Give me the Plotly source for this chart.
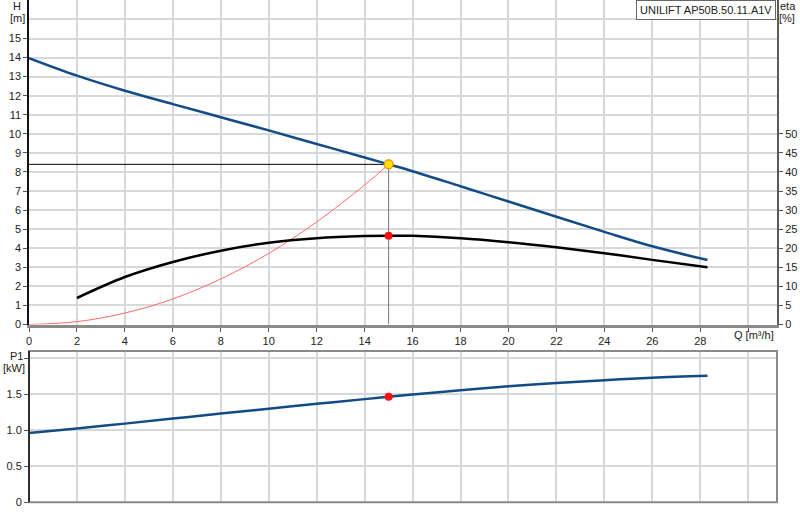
import plotly.graph_objects as go

# ---------------- data ----------------
Q_H = [0, 2, 4, 6, 8, 10, 12, 14, 15, 16, 18, 20, 22, 24, 26, 28.3]
H_vals = [13.97, 13.05, 12.26, 11.56, 10.87, 10.18, 9.47, 8.76, 8.4, 8.04, 7.25, 6.45, 5.65, 4.86, 4.1, 3.38]

Q_eta = [2, 4, 6, 8, 10, 12, 14, 15, 16, 18, 20, 22, 24, 26, 28.3]
eta_vals = [6.95, 12.45, 16.4, 19.35, 21.45, 22.65, 23.2, 23.3, 23.25, 22.65, 21.6, 20.25, 18.7, 16.95, 15.0]

Q_sys = [0, 2, 4, 6, 8, 10, 12, 14, 15]
H_sys = [0, 0.15, 0.6, 1.34, 2.39, 3.73, 5.38, 7.32, 8.4]

Q_P1 = [0, 2, 4, 6, 8, 10, 12, 14, 15, 16, 18, 20, 22, 24, 26, 28.3]
P1_vals = [0.96, 1.025, 1.092, 1.162, 1.232, 1.30, 1.367, 1.432, 1.465, 1.496, 1.555, 1.61, 1.656, 1.695, 1.728, 1.755]

Q_op = 15
H_op = 8.4
eta_op = 23.3
P1_op = 1.465

x_ticks = list(range(0, 31, 2))
x_labels = [str(v) for v in range(0, 29, 2)] + [""]
H_ticks = list(range(0, 16))
eta_ticks = list(range(0, 51, 5))
P1_ticks = [0, 0.5, 1.0, 1.5, 2.0]
P1_labels = ["0", "0.5", "1.0", "1.5", ""]

title_text = "UNILIFT AP50B.50.11.A1V"

# ---------------- layout helpers ----------------
W, Hh = 800, 520
def px(x):
    return x / W
def py(y):
    return 1 - y / Hh

FONT = dict(family="Liberation Sans, Arial, sans-serif", size=11, color="#222222")
GRID = "#d6d9dc"
BLUE = "#124b86"

fig = go.Figure()

fig.add_trace(go.Scatter(x=[0, Q_op], y=[H_op, H_op], mode="lines",
                         line=dict(color="#000000", width=1), xaxis="x", yaxis="y", hoverinfo="skip"))
fig.add_trace(go.Scatter(x=[Q_op, Q_op], y=[0, H_op], mode="lines",
                         line=dict(color="#777777", width=1), xaxis="x", yaxis="y", hoverinfo="skip"))
fig.add_trace(go.Scatter(x=Q_sys, y=H_sys, mode="lines", line=dict(color="#ff6a6a", width=1, shape="spline"),
                         xaxis="x", yaxis="y"))
fig.add_trace(go.Scatter(x=Q_eta, y=eta_vals, mode="lines", line=dict(color="#000000", width=2.5, shape="spline"),
                         xaxis="x", yaxis="y2"))
fig.add_trace(go.Scatter(x=Q_H, y=H_vals, mode="lines", line=dict(color=BLUE, width=2.5, shape="spline"),
                         xaxis="x", yaxis="y"))
fig.add_trace(go.Scatter(x=[Q_op], y=[eta_op], mode="markers",
                         marker=dict(color="#ff1010", size=8, line=dict(width=0)), xaxis="x", yaxis="y2"))
fig.add_trace(go.Scatter(x=[Q_op], y=[H_op], mode="markers",
                         marker=dict(color="#ffe000", size=9, line=dict(color="#f08c00", width=1.2)),
                         xaxis="x", yaxis="y"))
fig.add_trace(go.Scatter(x=Q_P1, y=P1_vals, mode="lines", line=dict(color=BLUE, width=2.5, shape="spline"),
                         xaxis="x2", yaxis="y3"))
fig.add_trace(go.Scatter(x=[Q_op], y=[P1_op], mode="markers",
                         marker=dict(color="#ff1010", size=8, line=dict(width=0)), xaxis="x2", yaxis="y3"))

xdom = [px(29), px(777)]
xrange_ = [0, 31.2]

fig.update_layout(
    width=W, height=Hh,
    margin=dict(l=0, r=0, t=0, b=0, autoexpand=False),
    paper_bgcolor="white", plot_bgcolor="white",
    showlegend=False,
    font=FONT,
    xaxis=dict(domain=xdom, range=xrange_, anchor="y", tickvals=x_ticks, ticktext=x_labels,
               showgrid=True, gridcolor=GRID, gridwidth=1.5, zeroline=False, automargin=False,
               showline=True, linecolor="#8a8a8a", linewidth=3,
               ticks="outside", ticklen=4, tickcolor="#555555", tickfont=FONT),
    yaxis=dict(domain=[py(324.5), 1], range=[0, 17.02], anchor="x", tickvals=H_ticks,
               showgrid=True, gridcolor=GRID, gridwidth=1.5, zeroline=False, automargin=False,
               minor=dict(tickvals=[16, 17], showgrid=True, gridcolor=GRID, gridwidth=1.5, ticks=""),
               showline=True, linecolor="#111111", linewidth=1.5,
               ticks="outside", ticklen=4, tickcolor="#555555", tickfont=FONT),
    yaxis2=dict(overlaying="y", side="right", anchor="x", range=[0, 85.1], tickvals=eta_ticks,
                showgrid=False, zeroline=False, showline=True, linecolor="#5a5a5a", linewidth=2,
                automargin=False,
                ticks="outside", ticklen=4, tickcolor="#555555", tickfont=FONT),
    xaxis2=dict(domain=xdom, range=xrange_, anchor="y3", tickvals=x_ticks, showticklabels=False,
                showgrid=True, gridcolor=GRID, gridwidth=1.5, zeroline=False, ticks="",
                showline=False, automargin=False),
    yaxis3=dict(domain=[py(502.3), py(351)], range=[0, 2.1], anchor="x2", tickvals=P1_ticks, ticktext=P1_labels,
                showgrid=True, gridcolor=GRID, gridwidth=1.5, zeroline=False, automargin=False,
                showline=False, ticks="outside", ticklen=4, tickcolor="#555555", tickfont=FONT),
)

fig.add_shape(type="rect", xref="paper", yref="paper", x0=px(29), x1=px(777), y0=py(502.3), y1=py(351),
              line=dict(color="#8a8a8a", width=2), layer="above")
fig.add_shape(type="line", xref="paper", yref="paper", x0=px(29), x1=px(29), y0=py(502.3), y1=py(351),
              line=dict(color="#111111", width=1.5), layer="above")

def label(text, x, y, xanchor="center"):
    fig.add_annotation(text=text, xref="paper", yref="paper", x=px(x), y=py(y),
                       xanchor=xanchor, yanchor="middle", showarrow=False, font=FONT)

label("H", 17, 6)
label("[m]", 17, 18)
label("eta", 788, 6)
label("[%]", 787, 18)
label("Q [m³/h]", 754, 335)
label("P1", 16, 356)
label("[kW]", 14, 368)

fig.add_annotation(text=title_text, xref="paper", yref="paper", x=px(776), y=py(0),
                   xanchor="right", yanchor="top", showarrow=False, font=FONT,
                   bgcolor="white", bordercolor="#666666", borderwidth=1, borderpad=3)

fig.write_html("out.html", config={"displayModeBar": False},
               post_script="document.body.style.margin='0';document.body.style.padding='0';"
                           "document.body.style.overflow='hidden';")
